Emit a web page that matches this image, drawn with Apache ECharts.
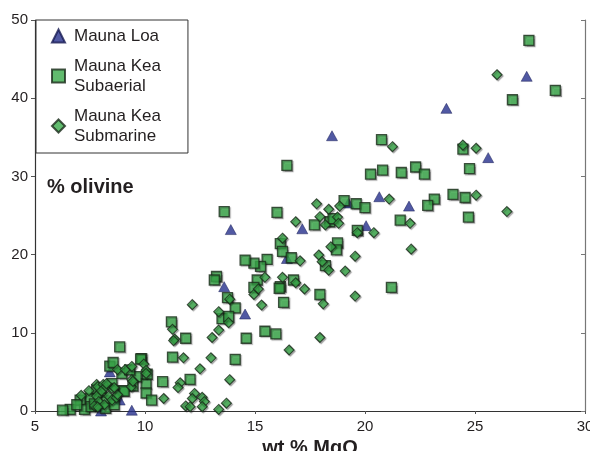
<!DOCTYPE html>
<html>
<head>
<meta charset="utf-8">
<script src="https://cdn.jsdelivr.net/npm/echarts@6/dist/echarts.min.js"></script>
<style>
  html, body { margin: 0; padding: 0; background: #fff; }
  #chart { width: 590px; height: 451px; }
</style>
</head>
<body>
<div id="chart"></div>
<script>
// [wt % MgO, % olivine]
const maunaLoa = [
  [27.35, 42.8], [23.7, 38.7], [18.5, 35.2], [25.6, 32.4], [22.0, 26.2], [20.65, 27.4],
  [19.25, 26.6], [20.05, 23.7], [17.15, 23.3], [16.45, 19.5], [13.9, 23.2], [13.6, 15.9],
  [14.55, 12.4], [8.4, 5.0], [9.4, 0.1], [8.85, 1.4], [8.0, 0.0],
];

const subaerial = [
  [27.45, 47.4], [28.65, 41.0], [26.7, 39.8], [20.75, 34.7], [24.45, 33.5], [20.8, 30.8],
  [21.65, 30.5], [22.3, 31.2], [22.7, 30.3], [24.75, 31.0], [23.15, 27.1], [22.85, 26.3],
  [24.0, 27.7], [24.55, 27.3], [21.6, 24.4], [24.7, 24.8], [21.2, 15.8], [20.25, 30.3],
  [19.05, 26.9], [19.6, 26.5], [20.0, 26.0], [17.7, 23.8], [18.4, 24.2], [18.55, 24.6],
  [19.65, 23.1], [18.75, 21.5], [18.7, 20.6], [18.2, 18.6], [16.0, 25.4], [16.45, 31.4],
  [13.6, 25.5], [16.15, 21.4], [16.25, 20.4], [16.65, 19.6], [15.55, 19.4], [15.25, 18.5],
  [14.95, 18.9], [14.55, 19.3], [15.1, 16.75], [16.15, 15.9], [16.1, 15.7], [16.75, 16.75],
  [14.95, 15.8], [17.95, 14.9], [16.3, 13.9], [13.25, 17.2], [13.15, 16.75], [13.75, 14.5],
  [14.1, 13.2], [13.5, 11.8], [13.8, 12.1], [11.2, 11.4], [11.85, 9.3], [14.6, 9.3],
  [15.45, 10.2], [15.95, 9.85], [11.25, 6.9], [14.1, 6.6], [12.05, 4.05], [10.8, 3.75],
  [10.05, 3.5], [10.05, 2.3], [10.3, 1.4], [9.85, 6.7], [10.1, 4.7], [9.6, 4.4],
  [8.85, 8.2], [8.4, 5.75], [8.55, 6.2], [9.8, 6.65], [8.95, 4.8], [9.3, 5.25],
  [9.45, 3.2], [9.0, 2.6], [8.5, 3.5], [8.0, 2.5], [7.8, 2.7], [7.5, 1.6],
  [7.05, 1.4], [7.25, 0.2], [6.6, 0.2], [6.25, 0.1], [8.25, 1.3], [8.2, 0.35],
  [7.55, 0.55], [9.05, 2.55], [6.9, 0.8], [7.7, 0.9], [8.6, 0.8],
];

const submarine = [
  [26.0, 43.0], [21.25, 33.8], [24.45, 34.0], [25.05, 33.6], [21.1, 27.1], [25.05, 27.6],
  [26.45, 25.5], [22.05, 24.0], [22.1, 20.7], [17.8, 26.5], [18.35, 25.8], [18.85, 26.2],
  [17.95, 24.85], [18.75, 24.8], [18.2, 23.8], [18.8, 24.0], [19.65, 22.8], [20.4, 22.8],
  [18.45, 21.0], [19.55, 19.8], [17.9, 19.95], [18.05, 19.1], [18.35, 18.0], [19.1, 17.9],
  [17.05, 19.2], [16.85, 24.2], [16.85, 16.4], [17.25, 15.6], [18.1, 13.7], [19.55, 14.7],
  [17.95, 9.4], [16.25, 22.1], [15.45, 17.1], [16.25, 17.1], [14.95, 14.9], [15.15, 15.6],
  [15.3, 13.55], [16.55, 7.8], [12.15, 13.6], [13.85, 14.3], [13.35, 12.7], [13.8, 11.3],
  [13.35, 10.35], [13.05, 9.4], [11.25, 10.45], [11.35, 9.2], [11.3, 9.0], [11.75, 6.8],
  [13.0, 6.8], [12.5, 5.4], [13.85, 4.0], [11.6, 3.6], [11.5, 3.0], [10.85, 1.6],
  [9.95, 6.0], [10.05, 5.2], [12.25, 2.25], [12.15, 1.6], [12.6, 1.75], [12.7, 1.2],
  [12.6, 0.55], [11.85, 0.65], [12.05, 0.55], [13.35, 0.2], [13.7, 1.0], [9.4, 4.0],
  [9.38, 3.1], [8.75, 5.3], [9.1, 5.3], [9.4, 5.7], [10.05, 4.8], [9.45, 3.8],
  [7.8, 3.4], [7.85, 3.1], [8.1, 3.4], [8.15, 2.9], [8.0, 2.5], [7.8, 1.9],
  [8.35, 1.9], [8.5, 1.4], [8.7, 1.7], [8.75, 2.1], [7.9, 1.2], [7.8, 0.6],
  [8.15, 0.8], [8.5, 2.9], [8.6, 3.0], [7.7, 0.65], [7.85, 0.5], [8.25, 3.5],
  [7.45, 2.6], [7.1, 2.0],
];

const xTicks = [5, 10, 15, 20, 25, 30];
const yTicks = [0, 10, 20, 30, 40, 50];

const FONT = 'Liberation Sans, Arial, sans-serif';
const INK = '#231f20';
const GREEN = '#3aaa4a';
const BLUE = '#262f8c';

const chart = echarts.init(document.getElementById('chart'));

const shadow = {
  shadowColor: 'rgba(0,0,0,0.35)',
  shadowBlur: 1,
  shadowOffsetX: 1.2,
  shadowOffsetY: 1.2,
};

const option = {
  animation: false,
  backgroundColor: '#fff',
  title: {
    text: '% olivine',
    left: 47,
    top: 177,
    padding: 0,
    textStyle: { fontFamily: FONT, fontSize: 20, fontWeight: 'bold', color: INK },
  },
  legend: {
    orient: 'vertical',
    left: 36,
    top: 20,
    padding: [6, 27, 7, 15],
    itemGap: 10,
    itemWidth: 13,
    itemHeight: 13,
    backgroundColor: '#fff',
    borderColor: '#333',
    borderWidth: 1,
    textStyle: { fontFamily: FONT, fontSize: 17, lineHeight: 20, color: INK, padding: [0, 0, 0, 4] },
    data: ['Mauna Loa', 'Mauna Kea\nSubaerial', 'Mauna Kea\nSubmarine'],
  },
  grid: { left: 35, right: 5, top: 20, bottom: 40, outerBoundsMode: 'none', containLabel: false },
  xAxis: [
    {
      type: 'value',
      min: xTicks[0],
      max: xTicks[xTicks.length - 1],
      interval: 5,
      name: 'wt % MgO',
      nameLocation: 'middle',
      nameGap: 20,
      nameTextStyle: { fontFamily: FONT, fontSize: 20, fontWeight: 'bold', color: INK },
      axisLine: { lineStyle: { color: '#333', width: 1.2 } },
      axisTick: { inside: false, length: 3, lineStyle: { color: '#555' } },
      axisLabel: { margin: 8, fontFamily: FONT, fontSize: 15, color: INK },
      splitLine: { show: false },
    },
    {
      type: 'value',
      position: 'top',
      min: xTicks[0],
      max: xTicks[xTicks.length - 1],
      interval: 5,
      axisLine: { lineStyle: { color: '#333', width: 1.2 } },
      axisTick: { show: false },
      axisLabel: { show: false },
      splitLine: { show: false },
    },
  ],
  yAxis: [
    {
      type: 'value',
      min: yTicks[0],
      max: yTicks[yTicks.length - 1],
      interval: 10,
      axisLine: { lineStyle: { color: '#333', width: 1.2 } },
      axisTick: { inside: false, length: 4, lineStyle: { color: '#555' } },
      axisLabel: { margin: 7, fontFamily: FONT, fontSize: 15, color: INK },
      splitLine: { show: false },
    },
    {
      type: 'value',
      position: 'right',
      min: yTicks[0],
      max: yTicks[yTicks.length - 1],
      interval: 10,
      axisLine: { lineStyle: { color: '#777', width: 1.2 } },
      axisTick: { inside: true, length: 4, lineStyle: { color: '#777' } },
      axisLabel: { show: false },
      splitLine: { show: false },
    },
  ],
  series: [
    {
      name: 'Mauna Loa',
      type: 'scatter',
      symbol: 'triangle',
      symbolSize: [11, 10],
      itemStyle: { color: BLUE, borderColor: '#161a52', borderWidth: 0.6 },
      data: maunaLoa,
    },
    {
      name: 'Mauna Kea\nSubaerial',
      type: 'scatter',
      symbol: 'rect',
      symbolSize: 10,
      itemStyle: Object.assign({ color: GREEN, borderColor: '#1a2a1a', borderWidth: 1.3 }, shadow),
      data: subaerial,
    },
    {
      name: 'Mauna Kea\nSubmarine',
      type: 'scatter',
      symbol: 'diamond',
      symbolSize: 10,
      itemStyle: Object.assign({ color: GREEN, borderColor: '#1a2a1a', borderWidth: 1.1 }, shadow),
      data: submarine,
    },
  ],
};

chart.setOption(option);
</script>
</body>
</html>
